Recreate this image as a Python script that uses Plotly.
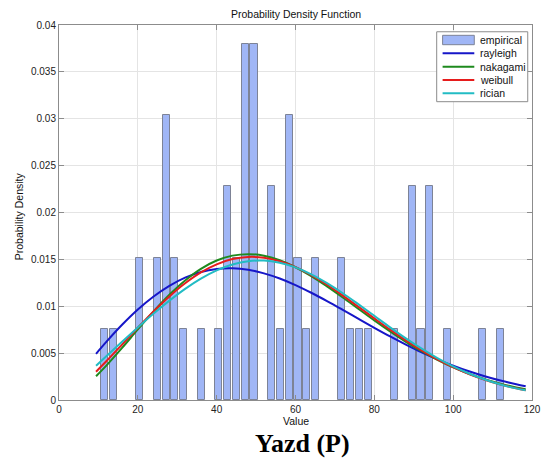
import plotly.graph_objects as go

# Histogram of the observed values (bin centres and normalised densities)
bin_centers = [11.57, 13.80, 20.49, 24.95, 27.18, 29.41, 31.64, 36.10, 40.56, 42.79,
               45.02, 47.25, 49.48, 53.94, 56.17, 58.40, 60.63, 62.86, 65.09, 71.78,
               74.01, 76.24, 78.47, 85.16, 89.62, 91.85, 94.08, 98.54, 107.46, 111.92]
empirical = [0.0076, 0.0076, 0.0152, 0.0152, 0.0304, 0.0152, 0.0076, 0.0076, 0.0076, 0.0228,
             0.0152, 0.0380, 0.0380, 0.0228, 0.0076, 0.0304, 0.0152, 0.0076, 0.0152, 0.0152,
             0.0076, 0.0076, 0.0076, 0.0076, 0.0228, 0.0076, 0.0228, 0.0076, 0.0076, 0.0076]

# Fitted density curves
curve_x = [9.4, 12, 16, 20, 24, 28, 32, 36, 40, 44, 48, 52, 56, 60, 64, 68, 72, 76, 80,
           84, 88, 92, 96, 100, 104, 108, 112, 116, 118.4]
rayleigh = [0.00493, 0.00620, 0.00802, 0.00965, 0.01104, 0.01218, 0.01305, 0.01365, 0.01398, 0.01405,
            0.01389, 0.01351, 0.01296, 0.01226, 0.01144, 0.01055, 0.00961, 0.00865, 0.00770, 0.00678,
            0.00591, 0.00509, 0.00434, 0.00366, 0.00306, 0.00253, 0.00207, 0.00168, 0.00147]
nakagami = [0.00254, 0.00367, 0.00556, 0.00753, 0.00945, 0.01122, 0.01275, 0.01399, 0.01488, 0.01540,
            0.01556, 0.01539, 0.01490, 0.01416, 0.01322, 0.01212, 0.01094, 0.00971, 0.00849, 0.00732,
            0.00621, 0.00520, 0.00429, 0.00349, 0.00280, 0.00222, 0.00174, 0.00134, 0.00114]
weibull = [0.00302, 0.00413, 0.00591, 0.00771, 0.00945, 0.01105, 0.01245, 0.01361, 0.01447, 0.01503,
           0.01526, 0.01518, 0.01480, 0.01417, 0.01331, 0.01229, 0.01114, 0.00993, 0.00871, 0.00750,
           0.00636, 0.00530, 0.00434, 0.00350, 0.00277, 0.00216, 0.00165, 0.00125, 0.00104]
rician = [0.00366, 0.00467, 0.00622, 0.00774, 0.00922, 0.01060, 0.01186, 0.01295, 0.01383, 0.01446,
          0.01481, 0.01487, 0.01464, 0.01415, 0.01341, 0.01247, 0.01139, 0.01020, 0.00898, 0.00775,
          0.00657, 0.00547, 0.00447, 0.00359, 0.00283, 0.00219, 0.00166, 0.00124, 0.00103]

x_ticks = [0, 20, 40, 60, 80, 100, 120]
y_ticks = [0, 0.005, 0.01, 0.015, 0.02, 0.025, 0.03, 0.035, 0.04]
y_tick_text = ["0", "0.005", "0.01", "0.015", "0.02", "0.025", "0.03", "0.035", "0.04"]

BAR_FILL = "#a0b6f6"
BAR_EDGE = "#7d8396"
curves = [
    ("rayleigh", rayleigh, "#1616c8"),
    ("nakagami", nakagami, "#1e8a1e"),
    ("weibull", weibull, "#e61c1c"),
    ("rician", rician, "#22bcc4"),
]
SANS = "Arial, Liberation Sans, Helvetica, sans-serif"

fig = go.Figure()
fig.add_trace(go.Bar(x=bin_centers, y=empirical, width=1.8, name="empirical",
                     marker=dict(color=BAR_FILL, line=dict(color=BAR_EDGE, width=1)),
                     showlegend=False))
for name, vals, color in curves:
    fig.add_trace(go.Scatter(x=curve_x, y=vals, mode="lines", name=name,
                             line=dict(color=color, width=2, shape="spline"),
                             showlegend=False))

axis_common = dict(showline=True, linecolor="#8c8c8c", linewidth=1, mirror="ticks",
                   ticks="inside", ticklen=5, tickcolor="#8c8c8c", automargin=False,
                   showgrid=True, gridcolor="#e4e4e4", gridwidth=1, zeroline=False,
                   tickfont=dict(family=SANS, size=10, color="#222222"))
fig.update_xaxes(range=[0, 120], tickvals=x_ticks, **axis_common)
fig.update_yaxes(range=[0, 0.04], tickvals=y_ticks, ticktext=y_tick_text, **axis_common)

# Box legend in the upper-right corner
lx0, lx1, ly0, ly1 = 0.7985, 0.991, 0.7955, 0.982
fig.add_shape(type="rect", xref="paper", yref="paper", x0=lx0, x1=lx1, y0=ly0, y1=ly1,
              line=dict(color="#8c8c8c", width=1), fillcolor="white", layer="above")
rows = [0.960, 0.9245, 0.8888, 0.8533, 0.8178]
sx0, sx1, tx = 0.811, 0.878, 0.8865
fig.add_shape(type="rect", xref="paper", yref="paper", x0=sx0, x1=sx1,
              y0=rows[0] - 0.0125, y1=rows[0] + 0.0125,
              line=dict(color=BAR_EDGE, width=1), fillcolor=BAR_FILL, layer="above")
labels = ["empirical"] + [c[0] for c in curves]
for i, (name, _, color) in enumerate(curves, start=1):
    fig.add_shape(type="line", xref="paper", yref="paper", x0=sx0, x1=sx1, y0=rows[i], y1=rows[i],
                  line=dict(color=color, width=2), layer="above")
for lab, ry in zip(labels, rows):
    fig.add_annotation(text=lab, xref="paper", yref="paper", x=tx, y=ry, showarrow=False,
                       xanchor="left", yanchor="middle", font=dict(family=SANS, size=10.5, color="#111111"))

# Titles
fig.add_annotation(text="Probability Density Function", xref="paper", yref="paper", x=0.5, y=1.029,
                   showarrow=False, xanchor="center", yanchor="middle",
                   font=dict(family=SANS, size=10.5, color="#111111"))
fig.add_annotation(text="Value", xref="paper", yref="paper", x=0.5, y=-0.056,
                   showarrow=False, xanchor="center", yanchor="middle",
                   font=dict(family=SANS, size=10.5, color="#111111"))
fig.add_annotation(text="Probability Density", xref="paper", yref="paper", x=-0.0846, y=0.49,
                   textangle=-90, showarrow=False, xanchor="center", yanchor="middle",
                   font=dict(family=SANS, size=10.5, color="#111111"))
fig.add_annotation(text="<b>Yazd (P)</b>", xref="paper", yref="paper", x=0.514, y=-0.115,
                   showarrow=False, xanchor="center", yanchor="middle",
                   font=dict(family="Times New Roman, Liberation Serif, serif", size=26, color="#000000"))

fig.update_layout(width=542, height=463, margin=dict(l=59, r=10, t=25, b=63),
                  paper_bgcolor="white", plot_bgcolor="white", bargap=0, showlegend=False)
fig.write_html("out.html")
